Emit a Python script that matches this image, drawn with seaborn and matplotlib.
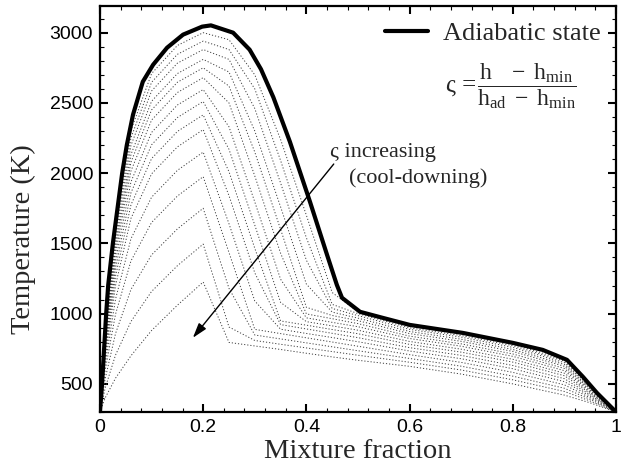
import numpy as np
import pandas as pd
import matplotlib
matplotlib.use("Agg")
import matplotlib.pyplot as plt
import seaborn as sns
from matplotlib.ticker import MultipleLocator, FixedLocator, FixedFormatter
from matplotlib.lines import Line2D

# ---------------- data ----------------
# Adiabatic state (thick line)
AD_Z = [0, 0.004, 0.012, 0.016, 0.025, 0.043, 0.052, 0.064, 0.083, 0.103, 0.13,
        0.161, 0.198, 0.215, 0.258, 0.29, 0.312, 0.336, 0.368, 0.407, 0.44,
        0.459, 0.469, 0.504, 0.548, 0.60, 0.703, 0.80, 0.858, 0.905, 0.936,
        0.963, 1.0]
AD_T = [300, 500, 1000, 1205, 1500, 2000, 2200, 2416, 2651, 2772, 2893,
        2986, 3043, 3052, 3000, 2879, 2740, 2540, 2224, 1796, 1419,
        1205, 1113, 1013, 970, 920, 863, 792, 742, 671, 550,
        436, 300]

# Non-adiabatic (cooled) states, dotted lines, sampled on a common grid
Z_GRID = [0, 0.01, 0.03, 0.06, 0.10, 0.15, 0.20, 0.25, 0.30, 0.35, 0.40,
          0.45, 0.50, 0.60, 0.70, 0.80, 0.90, 0.95, 1.0]
T_C01 = [300, 850, 1620, 2305, 2709, 2909, 3000, 2950, 2700, 2240, 1700, 1150, 1014, 911, 856, 783, 672, 485, 300]
T_C02 = [300, 835, 1583, 2251, 2647, 2846, 2940, 2880, 2600, 2090, 1540, 1066, 1000, 899, 844, 772, 662, 480, 300]
T_C03 = [300, 820, 1547, 2197, 2585, 2783, 2880, 2810, 2460, 1930, 1380, 1037, 986, 888, 833, 760, 651, 475, 300]
T_C04 = [300, 805, 1503, 2132, 2512, 2709, 2810, 2720, 2300, 1760, 1210, 1011, 968, 873, 818, 745, 638, 469, 300]
T_C05 = [300, 790, 1467, 2078, 2450, 2647, 2750, 2620, 2150, 1600, 1045, 987, 950, 858, 803, 731, 625, 463, 300]
T_C06 = [300, 772, 1425, 2015, 2378, 2574, 2680, 2500, 1980, 1430, 998, 964, 929, 840, 785, 713, 610, 456, 300]
T_C07 = [300, 752, 1373, 1938, 2290, 2485, 2595, 2330, 1795, 1245, 970, 938, 907, 823, 768, 696, 594, 449, 300]
T_C08 = [300, 732, 1320, 1860, 2202, 2396, 2510, 2170, 1630, 1080, 943, 913, 882, 802, 747, 675, 576, 440, 300]
T_C09 = [300, 708, 1263, 1774, 2104, 2297, 2415, 2010, 1465, 948, 918, 887, 857, 781, 726, 655, 558, 432, 300]
T_C10 = [300, 682, 1198, 1678, 1995, 2187, 2310, 1840, 1290, 922, 891, 860, 829, 758, 703, 631, 537, 422, 300]
T_C11 = [300, 640, 1101, 1533, 1829, 2020, 2150, 1640, 1090, 889, 859, 830, 800, 734, 679, 608, 516, 412, 300]
T_C12 = [300, 595, 994, 1375, 1649, 1837, 1975, 1435, 888, 858, 828, 798, 768, 708, 653, 582, 493, 401, 300]
T_C13 = [300, 535, 857, 1172, 1418, 1603, 1750, 1180, 848, 820, 792, 764, 736, 681, 626, 555, 469, 390, 300]
T_C14 = [300, 470, 704, 944, 1158, 1341, 1495, 905, 809, 782, 756, 730, 704, 654, 599, 529, 446, 378, 300]
T_C15 = [300, 400, 540, 700, 880, 1060, 1225, 795, 770, 745, 718, 692, 668, 625, 570, 500, 420, 365, 300]
COOLED = [T_C01, T_C02, T_C03, T_C04, T_C05, T_C06, T_C07, T_C08,
          T_C09, T_C10, T_C11, T_C12, T_C13, T_C14, T_C15]

X_TICKS = [0, 0.2, 0.4, 0.6, 0.8, 1.0]
X_TICK_LABELS = ["0", "0.2", "0.4", "0.6", "0.8", "1"]
Y_TICKS = [500, 1000, 1500, 2000, 2500, 3000]
Y_TICK_LABELS = ["500", "1000", "1500", "2000", "2500", "3000"]

# annotation arrow (data coordinates)
ARROW_FROM = (0.453, 2065)
ARROW_TO = (0.180, 828)

# ---------------- styling ----------------
sns.set_style("white")
plt.rcParams["font.family"] = ["Liberation Serif", "DejaVu Serif"]
plt.rcParams["mathtext.fontset"] = "custom"
plt.rcParams["mathtext.rm"] = "Liberation Serif"
plt.rcParams["mathtext.it"] = "Liberation Serif:italic"
plt.rcParams["mathtext.bf"] = "Liberation Serif:bold"

fig = plt.figure(figsize=(6.28, 4.68), dpi=100)
ax = fig.add_axes([0.1592, 0.1197, 0.8217, 0.8675])

rows = []
for i, temps in enumerate(COOLED):
    for z, t in zip(Z_GRID, temps):
        rows.append({"Z": z, "T": t, "curve": i})
df = pd.DataFrame(rows)

for i in range(len(COOLED)):
    sub = df[df["curve"] == i]
    sns.lineplot(data=sub, x="Z", y="T", ax=ax, color="0.25", lw=0.7,
                 linestyle=(0, (1.2, 2.0)), estimator=None, sort=False,
                 legend=False)

ad_df = pd.DataFrame({"Z": AD_Z, "T": AD_T})
sns.lineplot(data=ad_df, x="Z", y="T", ax=ax, color="black", lw=3.0,
             estimator=None, sort=False, legend=False,
             solid_joinstyle="round")

ax.set_xlim(0, 1)
ax.set_ylim(300, 3190)

ax.xaxis.set_major_locator(FixedLocator(X_TICKS))
ax.xaxis.set_major_formatter(FixedFormatter(X_TICK_LABELS))
ax.xaxis.set_minor_locator(MultipleLocator(0.04))
ax.yaxis.set_major_locator(FixedLocator(Y_TICKS))
ax.yaxis.set_major_formatter(FixedFormatter(Y_TICK_LABELS))
ax.yaxis.set_minor_locator(MultipleLocator(100))

ax.tick_params(which="both", direction="in", top=True, right=True,
               bottom=True, left=True, colors="black")
ax.tick_params(which="major", length=5.5, width=1.5, pad=5)
ax.tick_params(which="minor", length=3, width=0.8)
for lab in ax.get_xticklabels() + ax.get_yticklabels():
    lab.set_fontfamily("Liberation Sans")
    lab.set_fontsize(14)

for sp in ax.spines.values():
    sp.set_linewidth(1.6)
    sp.set_color("black")

ax.set_xlabel("Mixture fraction", fontsize=20.5, labelpad=2)
ax.set_ylabel("Temperature (K)", fontsize=20.5)
ax.yaxis.set_label_coords(-0.124, 0.425)

handle = Line2D([], [], color="black", lw=3.0)
ax.legend([handle], ["Adiabatic state"], loc="center right",
          bbox_to_anchor=(0.970, 0.933), frameon=False, fontsize=19,
          handlelength=1.63, handletextpad=0.57, borderpad=0, borderaxespad=0)

ax.text(0.700, 0.803, "\u03c2 =", transform=ax.transAxes, fontsize=18,
        ha="center", va="center")
ax.text(0.828, 0.803,
        r"$\dfrac{\mathrm{h}\ \ \ -\ \mathrm{h}_{\mathrm{min}}}{\mathrm{h}_{\mathrm{ad}}\ -\ \mathrm{h}_{\mathrm{min}}}$",
        transform=ax.transAxes, fontsize=17, ha="center", va="center")

ax.text(0.445, 0.640, "\u03c2 increasing", transform=ax.transAxes,
        fontsize=16, ha="left", va="center")
ax.text(0.482, 0.576, "(cool-downing)", transform=ax.transAxes,
        fontsize=16, ha="left", va="center")

ax.annotate("", xy=ARROW_TO, xytext=ARROW_FROM,
            arrowprops=dict(arrowstyle="-|>,head_length=0.9,head_width=0.28",
                            lw=1.0, color="black", shrinkA=0, shrinkB=0))

fig.savefig("out.png", dpi=100)
